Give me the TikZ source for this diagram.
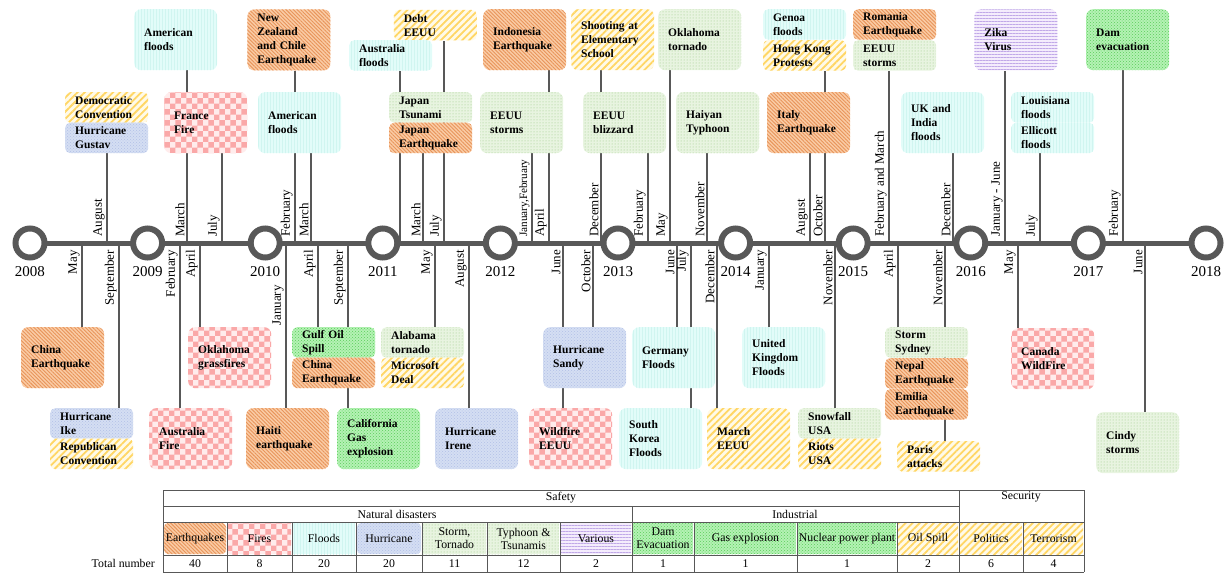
\documentclass[tikz,border=0pt]{standalone}
\usepackage{fontspec}
\setmainfont{Liberation Serif}
\usetikzlibrary{patterns,patterns.meta,backgrounds}
\definecolor{lineg}{RGB}{88,88,88}
\definecolor{eqbg}{RGB}{250,204,166}
\definecolor{eqfg}{RGB}{232,148,90}
\definecolor{firebg}{RGB}{255,236,236}
\definecolor{firefg}{RGB}{250,168,168}
\definecolor{flbg}{RGB}{226,252,249}
\definecolor{flfg}{RGB}{208,245,240}
\definecolor{hubg}{RGB}{212,222,243}
\definecolor{hufg}{RGB}{178,192,230}
\definecolor{stbg}{RGB}{232,244,224}
\definecolor{stfg}{RGB}{150,200,130}
\definecolor{vabg}{RGB}{244,236,252}
\definecolor{vafg}{RGB}{192,168,232}
\definecolor{inbg}{RGB}{180,242,180}
\definecolor{infg}{RGB}{90,205,90}
\definecolor{pobg}{RGB}{255,250,232}
\definecolor{pofg}{RGB}{255,214,100}
\tikzset{
  eq/.style={preaction={fill=eqbg}, pattern={Lines[angle=-45,distance=2.6pt,line width=0.9pt]}, pattern color=eqfg},
  fire/.style={preaction={fill=firebg}, pattern=checkerboard, pattern color=firefg},
  fl/.style={preaction={fill=flbg}, pattern=vertical lines, pattern color=flfg},
  hu/.style={preaction={fill=hubg}, pattern=crosshatch dots, pattern color=hufg},
  st/.style={preaction={fill=stbg}, pattern=dots, pattern color=stfg},
  va/.style={preaction={fill=vabg}, pattern={Lines[angle=0,distance=3pt,line width=0.8pt]}, pattern color=vafg},
  ind/.style={preaction={fill=inbg}, pattern=crosshatch dots, pattern color=infg},
  po/.style={preaction={fill=pobg}, pattern={Lines[angle=45,distance=5pt,line width=1.8pt]}, pattern color=pofg},
  box/.style={anchor=north west, align=left, text width=63pt, inner xsep=10pt, inner ysep=0pt,
    minimum height=61pt, rounded corners=7pt, font=\bfseries\fontsize{11.5}{14}\selectfont},
  half/.style={box, minimum height=30.5pt, rounded corners=5pt},
  tickln/.style={draw=lineg, line width=1.4pt},
  mup/.style={rotate=90, anchor=south west, inner sep=1pt, font=\fontsize{13}{13}\selectfont},
  mdn/.style={rotate=90, anchor=south east, inner sep=1pt, font=\fontsize{13}{13}\selectfont},
  yr/.style={font=\fontsize{15}{15}\selectfont},
  ring/.style={draw=lineg, line width=6pt, fill=white, circle, minimum size=29pt, inner sep=0pt},
  cell/.style={font=\fontsize{11.8}{13}\selectfont, align=center, inner sep=0pt},
  tab/.style={draw=lineg, line width=0.9pt},
}
\def\uplist{107/August/gustav, 187/March/amfA, 222/July/ffire, 295/February/nz,
      311/March/amfB, 423/March/jpeq, 444/July/debt, 549/April/indo, 601/December/shoot,
      648/February/bliz, 670/May/oktor, 707/November/haiyan, 810/August/italy, 825/October/hk,
      889/February and March/eeuuB, 953/December/ukin, 1005/January - June/zika, 1040/July/ellic,
      1123/February/dam}
\def\dnlist{82/May/chinaA, 119/September/ike, 180/February/ausfire, 200/April/okgr,
      318/April/gulf, 348/September/cagas, 435/May/alab, 469/August/irene,
      563/June/wild, 593/October/sandy, 677/June/germ, 691/July/skor, 717/December/march,
      769/January/ukfl, 835/November/snow, 898/April/sydney, 945/November/paris,
      1018/May/canada, 1145/June/cindy}
\begin{document}
\begin{tikzpicture}[x=1pt,y=-1pt]
\useasboundingbox (0,0) rectangle (1227,573);
% ---------- top row
\node[box,fl] (amfA) at (134,9) {American\\floods};
\node[box,eq] (nz) at (247,9) {New\\Zealand\\and Chile\\Earthquake};
\node[half,po] (debt) at (393,9) {Debt\\EEUU};
\node[half,fl] (ausfl) at (349,40) {Australia\\floods};
\node[box,eq] (indo) at (483,9) {Indonesia\\Earthquake};
\node[box,po] (shoot) at (571,9) {Shooting at\\Elementary\\School};
\node[box,st] (oktor) at (658,9) {Oklahoma\\tornado};
\node[half,fl] (genoa) at (763,9) {Genoa\\floods};
\node[half,po] (hk) at (763,40) {Hong Kong\\Protests};
\node[half,eq] (roman) at (853,9) {Romania\\Earthquake};
\node[half,st] (eeuuB) at (853,40) {EEUU\\storms};
\node[box,va] (zika) at (974,9) {Zika\\Virus};
\node[box,ind] (dam) at (1086,9) {Dam\\evacuation};
% ---------- second row
\node[half,po] (dem) at (65,92) {Democratic\\Convention};
\node[half,hu] (gustav) at (65,122.5) {Hurricane\\Gustav};
\node[box,fire] (ffire) at (164,92) {France\\Fire};
\node[box,fl] (amfB) at (258,92) {American\\floods};
\node[half,st] (jpts) at (389,92) {Japan\\Tsunami};
\node[half,eq] (jpeq) at (389,122.5) {Japan\\Earthquake};
\node[box,st] (eeuuA) at (480,92) {EEUU\\storms};
\node[box,st] (bliz) at (583,92) {EEUU\\blizzard};
\node[box,st] (haiyan) at (676,92) {Haiyan\\Typhoon};
\node[box,eq] (italy) at (767,92) {Italy\\Earthquake};
\node[box,fl] (ukin) at (901,92) {UK and\\India\\floods};
\node[half,fl] (louis) at (1011,92) {Louisiana\\floods};
\node[half,fl] (ellic) at (1011,122.5) {Ellicott\\floods};
% ---------- bottom row 1
\node[box,eq] (chinaA) at (21,327) {China\\Earthquake};
\node[box,fire] (okgr) at (188,327) {Oklahoma\\grassfires};
\node[half,ind] (gulf) at (292,327) {Gulf Oil\\Spill};
\node[half,eq] (chinaB) at (292,357.5) {China\\Earthquake};
\node[half,st] (alab) at (381,327) {Alabama\\tornado};
\node[half,po] (msft) at (381,357.5) {Microsoft\\Deal};
\node[box,hu] (sandy) at (543,327) {Hurricane\\Sandy};
\node[box,fl] (germ) at (632,327) {Germany\\Floods};
\node[box,fl] (ukfl) at (742,327) {United\\Kingdom\\Floods};
\node[half,st] (sydney) at (885,327) {Storm\\Sydney};
\node[half,eq] (nepal) at (885,358) {Nepal\\Earthquake};
\node[half,eq] (emilia) at (885,389) {Emilia\\Earthquake};
\node[box,fire] (canada) at (1011,328) {Canada\\WildFire};
% ---------- bottom row 2
\node[half,hu] (ike) at (50,408) {Hurricane\\Ike};
\node[half,po] (repub) at (50,438.5) {Republican\\Convention};
\node[box,fire] (ausfire) at (149,408) {Australia\\Fire};
\node[box,eq] (haiti) at (246,408) {Haiti\\earthquake};
\node[box,ind] (cagas) at (337,408) {California\\Gas\\explosion};
\node[box,hu] (irene) at (435,408) {Hurricane\\Irene};
\node[box,fire] (wild) at (529,408) {Wildfire\\EEUU};
\node[box,fl] (skor) at (619,408) {South\\Korea\\Floods};
\node[box,po] (march) at (707,408) {March\\EEUU};
\node[half,st] (snow) at (798,408) {Snowfall\\USA};
\node[half,po] (riots) at (798,438.5) {Riots\\USA};
\node[half,po] (paris) at (897,441) {Paris\\attacks};
\node[box,st] (cindy) at (1096,412) {Cindy\\storms};
% ---------- year coordinates
\foreach \i in {0,...,10} { \coordinate (c\i) at ({30+117.6*\i},243); }
% ---------- tick lines (behind boxes)
\begin{scope}[on background layer]
  \foreach \x/\m/\t in \uplist {
    \coordinate (u\x) at (\x,243);
    \draw[tickln] (u\x) -- (u\x |- \t.south);
  }
  \coordinate (u400) at (400,243);
  \draw[tickln] (u400) -- (u400 |- ausfl.south);
  \coordinate (u532) at (532,243);
  \draw[tickln] (u532) -- (u532 |- eeuuA.south);
  \foreach \x/\m/\t in \dnlist {
    \coordinate (d\x) at (\x,243);
    \draw[tickln] (d\x) -- (d\x |- \t.north);
  }
  \coordinate (d286) at (286,243);
  \draw[tickln] (d286) -- (d286 |- haiti.north);
\end{scope}
\draw[lineg, line width=5pt] (c0) -- (c10);
\foreach \i in {0,...,10} {
  \pgfmathtruncatemacro{\yy}{2008+\i}
  \node[ring] (r\i) at (c\i) {};
  \node[yr] (y\i) at ({30+117.6*\i},272) {\yy};
}
% ---------- month labels
\foreach \x/\m/\t in \uplist { \node[mup] (lu\x) at (\x-1.2,238) {\m}; }
\node[mup, font=\fontsize{11.2}{11}\selectfont] (lu532) at (530.8,238) {January,February};
\foreach \x/\m/\t in \dnlist { \node[mdn] (ld\x) at (\x-1.2,249) {\m}; }
\node[mdn] (ld286) at (284.8,284) {January};
% ---------- table fills
\path[eq, rounded corners=4pt] (164,523) rectangle (226,554);
\path[fire] (228,523) rectangle (291,554);
\path[fl] (293,523) rectangle (355,554);
\path[hu, rounded corners=4pt] (357,523) rectangle (421,554);
\path[st] (423,523) rectangle (486,554);
\path[st] (488,523) rectangle (559,554);
\path[va] (561,523) rectangle (631,554);
\path[ind] (633,523) rectangle (693,554);
\path[ind] (695,523) rectangle (796,554);
\path[ind] (798,523) rectangle (896,554);
\path[po] (898,523) rectangle (958,554);
\path[po] (960,523) rectangle (1022,554);
\path[po] (1024,523) rectangle (1083,554);
% ---------- table grid
\draw[tab] (163,490) -- (1084,490);
\draw[tab] (163,506) -- (959,506);
\draw[tab] (163,522) -- (1084,522);
\draw[tab] (163,555) -- (1084,555);
\draw[tab] (163,572) -- (1084,572);
\draw[tab] (163,490) -- (163,572);
\draw[tab] (1084,490) -- (1084,572);
\draw[tab] (959,490) -- (959,572);
\draw[tab] (632,506) -- (632,572);
\foreach \x in {227,292,356,422,487,560,694,797,897,1023} { \draw[tab] (\x,522) -- (\x,572); }
% ---------- table text
\node[cell] (tsaf) at (561,498) {Safety};
\node[cell] (tsec) at (1021,497) {Security};
\node[cell] (tnat) at (397,514) {Natural disasters};
\node[cell] (tind) at (795,514) {Industrial};
\node[cell] (k1) at (195,538.5) {Earthquakes};
\node[cell] (k2) at (259.5,538.5) {Fires};
\node[cell] (k3) at (324,538.5) {Floods};
\node[cell] (k4) at (389,538.5) {Hurricane};
\node[cell] (k5) at (454.5,538.5) {Storm,\\Tornado};
\node[cell] (k6) at (523.5,538.5) {Typhoon \&\\Tsunamis};
\node[cell] (k7) at (596,538.5) {Various};
\node[cell] (k8) at (663,538.5) {Dam\\Evacuation};
\node[cell] (k9) at (745.5,538.5) {Gas explosion};
\node[cell] (k10) at (847,538.5) {Nuclear power plant};
\node[cell] (k11) at (928,538.5) {Oil Spill};
\node[cell] (k12) at (991,538.5) {Politics};
\node[cell] (k13) at (1053.5,538.5) {Terrorism};
\node[cell, anchor=east] (ttot) at (155,563.5) {Total number};
\foreach \x/\n [count=\j] in {195/40, 259.5/8, 324/20, 389/20, 454.5/11, 523.5/12, 596/2,
   663/1, 745.5/1, 847/1, 928/2, 991/6, 1053.5/4} {
  \node[cell] (n\j) at (\x,563.5) {\n};
}
\end{tikzpicture}
\end{document}
